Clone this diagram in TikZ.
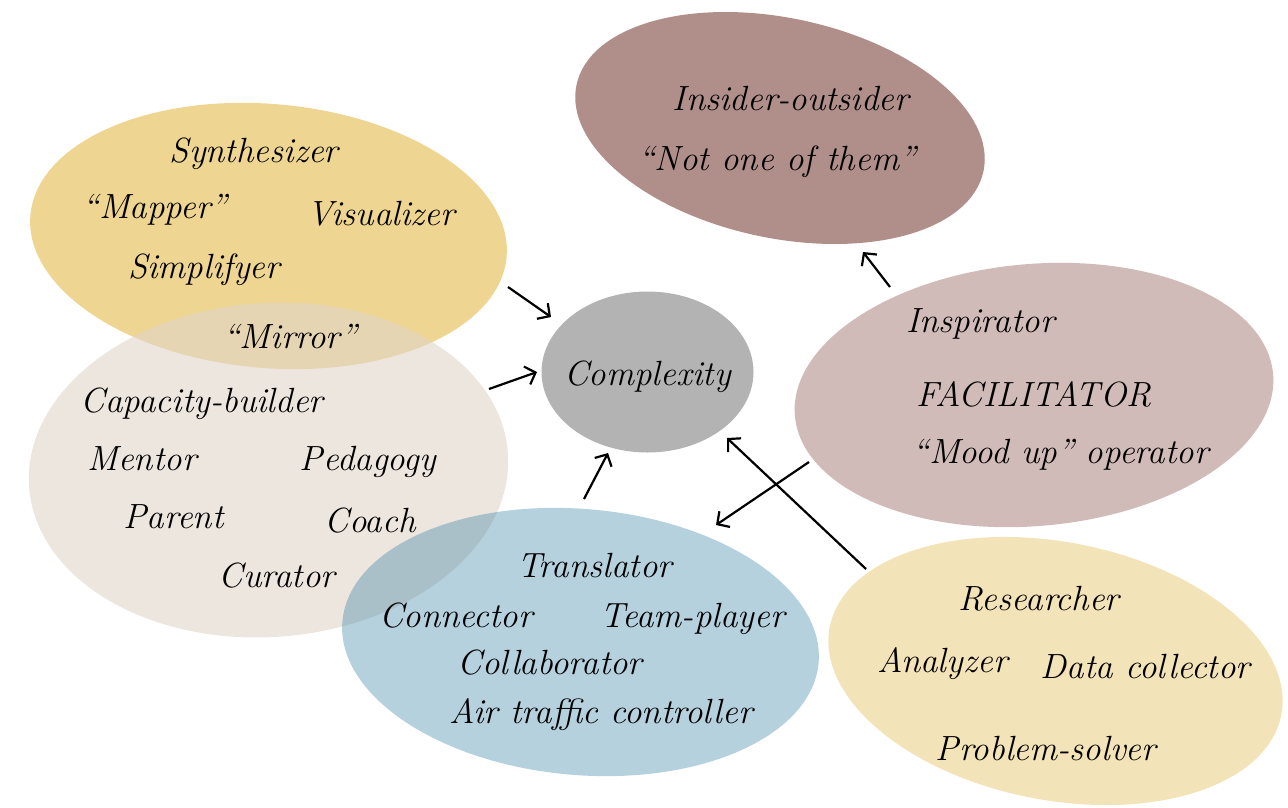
\documentclass[tikz,border=0pt]{standalone}
\usepackage{fontspec}
\usetikzlibrary{shapes.geometric,arrows.meta}

\definecolor{rosewood}{RGB}{176,143,138}
\definecolor{wheat}{RGB}{238,213,146}
\definecolor{sand}{RGB}{225,213,202}
\definecolor{steel}{RGB}{43,123,158}
\definecolor{ash}{RGB}{179,179,179}
\definecolor{blush}{RGB}{209,187,185}
\definecolor{cream}{RGB}{243,227,184}

\begin{document}
\begin{tikzpicture}[x=1pt,y=-1pt,
  blob/.style={ellipse, inner sep=0pt, draw=none},
  lbl/.style={anchor=base, inner sep=0pt, font=\fontsize{35}{42}\selectfont\itshape},
  link/.style={line width=2.2pt, -{Straight Barb[length=9pt,width=19pt]}}]

\path[use as bounding box] (0,0) rectangle (1288,807);

% role clusters
\node[blob, fill=rosewood, minimum width=416pt, minimum height=220pt, rotate=-12] (insider) at (780,128) {};
\node[blob, fill=wheat, minimum width=478pt, minimum height=264pt, rotate=-5] (synth) at (268.5,236) {};
\node[blob, fill=sand, fill opacity=0.6, minimum width=480pt, minimum height=334pt, rotate=4] (capacity) at (268.5,470) {};
\node[blob, fill=steel, fill opacity=0.35, minimum width=478pt, minimum height=266pt, rotate=-5] (translate) at (580.5,642) {};
\node[blob, fill=blush, minimum width=480pt, minimum height=262pt, rotate=5] (facil) at (1034,395) {};
\node[blob, fill=cream, minimum width=460pt, minimum height=258pt, rotate=-11] (research) at (1055.5,671) {};
\node[blob, fill=ash, minimum width=212pt, minimum height=161pt] (complexity) at (647.5,372) {};

% labels
\node[lbl] (l-insider) at (791,110) {Insider-outsider};
\node[lbl] (l-notone) at (777,170) {``Not one of them''};

\node[lbl] (l-synth) at (254,162) {Synthesizer};
\node[lbl] (l-mapper) at (155,218) {``Mapper''};
\node[lbl] (l-visual) at (381,225) {Visualizer};
\node[lbl] (l-simpl) at (204,278) {Simplifyer};
\node[lbl] (l-mirror) at (290,348) {``Mirror''};

\node[lbl] (l-capacity) at (202,412) {Capacity-builder};
\node[lbl] (l-mentor) at (142,470) {Mentor};
\node[lbl] (l-pedagogy) at (368,470) {Pedagogy};
\node[lbl] (l-parent) at (173.5,528) {Parent};
\node[lbl] (l-coach) at (370,532) {Coach};
\node[lbl] (l-curator) at (277,587) {Curator};

\node[lbl] (l-translator) at (594.5,577) {Translator};
\node[lbl] (l-connector) at (456,627) {Connector};
\node[lbl] (l-team) at (692.5,627) {Team-player};
\node[lbl] (l-collab) at (550,674) {Collaborator};
\node[lbl] (l-atc) at (601,723) {Air traffic controller};

\node[lbl] (l-inspirator) at (980.5,332) {Inspirator};
\node[lbl] (l-facil) at (1034,406) {FACILITATOR};
\node[lbl] (l-mood) at (1060.5,463) {``Mood up'' operator};

\node[lbl] (l-research) at (1039,610) {Researcher};
\node[lbl] (l-analyzer) at (942.5,672) {Analyzer};
\node[lbl] (l-data) at (1145.5,678) {Data collector};
\node[lbl] (l-problem) at (1046,760) {Problem-solver};

\node[lbl] (l-complexity) at (647.5,385) {Complexity};

% arrow ends
\coordinate (synth-out) at (508,287);
\coordinate (synth-in) at (551,317);
\coordinate (capacity-out) at (489,389);
\coordinate (capacity-in) at (537,372);
\coordinate (translate-out) at (584,499);
\coordinate (translate-in) at (608,453);
\coordinate (research-out) at (866,569);
\coordinate (research-in) at (727,438);
\coordinate (facil-out-a) at (809,462);
\coordinate (facil-in-a) at (716,525);
\coordinate (facil-out-b) at (890,287);
\coordinate (facil-in-b) at (863,252);

\draw[link] (synth-out) -- (synth-in);
\draw[link] (capacity-out) -- (capacity-in);
\draw[link] (translate-out) -- (translate-in);
\draw[link] (research-out) -- (research-in);
\draw[link] (facil-out-a) -- (facil-in-a);
\draw[link] (facil-out-b) -- (facil-in-b);

\end{tikzpicture}
\end{document}
